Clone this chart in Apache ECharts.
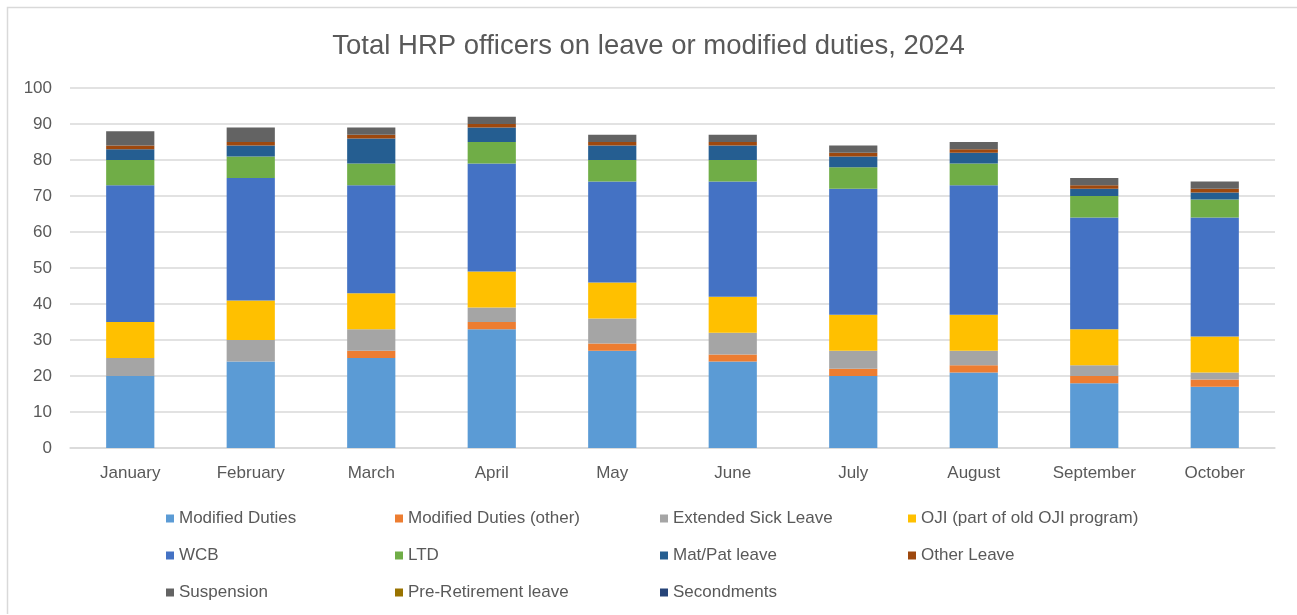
<!DOCTYPE html>
<html>
<head>
<meta charset="utf-8">
<title>Total HRP officers on leave or modified duties, 2024</title>
<script src="https://cdn.jsdelivr.net/npm/echarts@6/dist/echarts.min.js"></script>
<style>
  html, body { margin: 0; padding: 0; background: #fff; }
  #chart { width: 1297px; height: 615px; }
</style>
</head>
<body>
<div id="chart"></div>
<script>
// months on the x axis
const months = ["January", "February", "March", "April", "May", "June",
  "July", "August", "September", "October"];

// stacked series, bottom to top
const modifiedDuties = [20, 24, 25, 33, 27, 24, 20, 21, 18, 17];
const modifiedDutiesOther = [0, 0, 2, 2, 2, 2, 2, 2, 2, 2];
const extendedSickLeave = [5, 6, 6, 4, 7, 6, 5, 4, 3, 2];
const oji = [10, 11, 10, 10, 10, 10, 10, 10, 10, 10];
const wcb = [38, 34, 30, 30, 28, 32, 35, 36, 31, 33];
const ltd = [7, 6, 6, 6, 6, 6, 6, 6, 6, 5];
const matPatLeave = [3, 3, 7, 4, 4, 4, 3, 3, 2, 2];
const otherLeave = [1, 1, 1, 1, 1, 1, 1, 1, 1, 1];
const suspension = [4, 4, 2, 2, 2, 2, 2, 2, 2, 2];
const preRetirement = [0, 0, 0, 0, 0, 0, 0, 0, 0, 0];
const secondments = [0, 0, 0, 0, 0, 0, 0, 0, 0, 0];

// y axis ticks
const yMin = 0;
const yMax = 100;
const yStep = 10;

const seriesDefs = [
  { name: "Modified Duties", data: modifiedDuties, color: "#5B9BD5" },
  { name: "Modified Duties (other)", data: modifiedDutiesOther, color: "#ED7D31" },
  { name: "Extended Sick Leave", data: extendedSickLeave, color: "#A5A5A5" },
  { name: "OJI (part of old OJI program)", data: oji, color: "#FFC000" },
  { name: "WCB", data: wcb, color: "#4472C4" },
  { name: "LTD", data: ltd, color: "#70AD47" },
  { name: "Mat/Pat leave", data: matPatLeave, color: "#255E91" },
  { name: "Other Leave", data: otherLeave, color: "#9E480E" },
  { name: "Suspension", data: suspension, color: "#636363" },
  { name: "Pre-Retirement leave", data: preRetirement, color: "#997300" },
  { name: "Secondments", data: secondments, color: "#264478" }
];

const fontFamily = "'Liberation Sans', Arial, sans-serif";
const textColor = "#595959";
const gridColor = "#D9D9D9";

// legend laid out in 4 columns, like the Excel original
const legendColumns = [
  { left: 166, names: ["Modified Duties", "WCB", "Suspension"] },
  { left: 395, names: ["Modified Duties (other)", "LTD", "Pre-Retirement leave"] },
  { left: 660, names: ["Extended Sick Leave", "Mat/Pat leave", "Secondments"] },
  { left: 908, names: ["OJI (part of old OJI program)", "Other Leave"] }
];

const chart = echarts.init(document.getElementById("chart"), null, { renderer: "canvas" });

chart.setOption({
  animation: false,
  backgroundColor: "#fff",
  textStyle: { fontFamily: fontFamily },
  title: {
    text: "Total HRP officers on leave or modified duties, 2024",
    left: "center",
    top: 27,
    textStyle: {
      fontFamily: fontFamily,
      fontSize: 27.5,
      fontWeight: "normal",
      color: textColor
    }
  },
  // chart frame (top and left edges visible)
  graphic: [
    {
      type: "polyline",
      silent: true,
      shape: { points: [[7.5, 614], [7.5, 7.5], [1297, 7.5]] },
      style: { stroke: gridColor, lineWidth: 1.5, fill: null }
    }
  ],
  legend: legendColumns.map(col => ({
    orient: "vertical",
    left: col.left,
    top: 510,
    padding: 0,
    itemWidth: 8,
    itemHeight: 8,
    itemGap: 20,
    icon: "rect",
    selectedMode: false,
    data: col.names,
    textStyle: {
      fontFamily: fontFamily,
      fontSize: 17,
      lineHeight: 16,
      color: textColor,
      padding: [0, 0, 0, 0]
    }
  })),
  grid: {
    left: 70,
    right: 22,
    top: 88,
    bottom: 167
  },
  xAxis: {
    type: "category",
    data: months,
    axisLine: { lineStyle: { color: gridColor, width: 1.5 } },
    axisTick: { show: false },
    axisLabel: {
      color: textColor,
      fontSize: 17,
      fontFamily: fontFamily,
      margin: 17
    }
  },
  yAxis: {
    type: "value",
    min: yMin,
    max: yMax,
    interval: yStep,
    axisLine: { show: false },
    axisTick: { show: false },
    axisLabel: {
      color: textColor,
      fontSize: 17,
      fontFamily: fontFamily,
      margin: 18
    },
    splitLine: { lineStyle: { color: gridColor, width: 1.5 } }
  },
  series: seriesDefs.map(s => ({
    name: s.name,
    type: "bar",
    stack: "total",
    barWidth: "40%",
    data: s.data,
    itemStyle: { color: s.color }
  }))
});
</script>
</body>
</html>
